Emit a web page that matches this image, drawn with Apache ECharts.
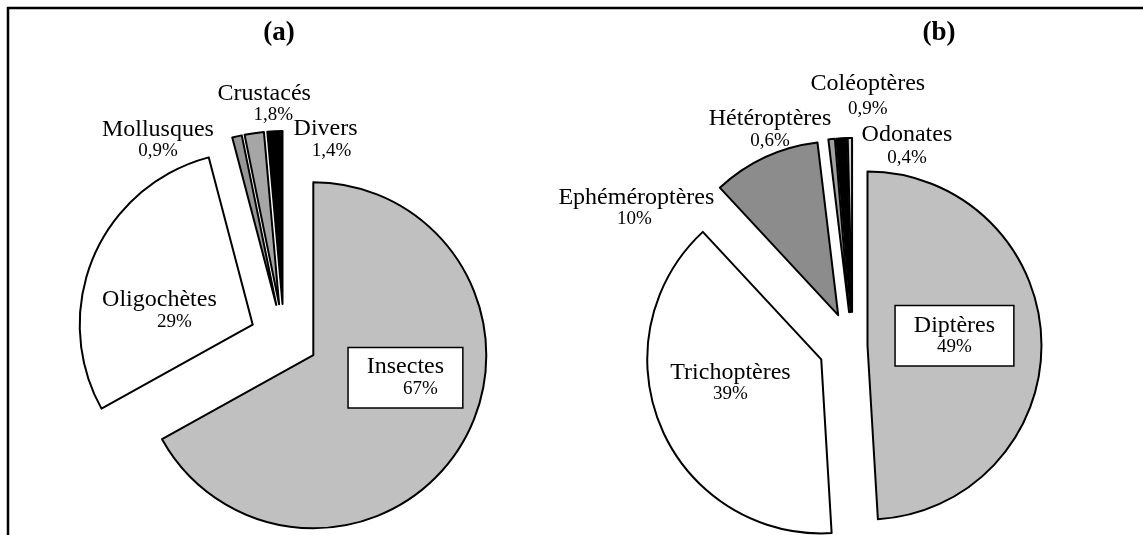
<!DOCTYPE html>
<html><head><meta charset="utf-8">
<script src="https://cdn.jsdelivr.net/npm/echarts@6/dist/echarts.min.js"></script>
<style>html,body{margin:0;padding:0;background:#fff}#c{width:1143px;height:535px}</style>
</head><body><div id="c"></div>
<script>
// ---- data ----
const panelTitles = ['(a)', '(b)'];
const catsA = ['Insectes', 'Oligochètes', 'Mollusques', 'Crustacés', 'Divers'];
const valsA = [67, 29, 0.9, 1.8, 1.4];
const catsB = ['Diptères', 'Trichoptères', 'Ephéméroptères', 'Hétéroptères', 'Coléoptères', 'Odonates'];
const valsB = [49, 39, 10, 0.6, 0.9, 0.4];

// ---- styles ----
const FONT = "'Liberation Serif', 'Times New Roman', serif";
const colorsA = ['#c0c0c0', '#ffffff', '#969696', '#a6a6a6', '#000000'];
const colorsB = ['#c0c0c0', '#ffffff', '#8c8c8c', '#a0a0a0', '#000000', '#d0d0d0'];
const explodeA = [34, 34, 34, 34, 34];
const explodeB = [15, 34, 34, 34, 34, 34];
const labelOffA = [[15, -23], [-11, 21], [-98, -78], [-2, -112], [47, -75]];
const labelOffB = [[-3, -7], [-8, -12], [-164, -25], [-70, -93], [22, -128], [56, -77]];
const pctShiftA = [15, 15, 0, 9, 6];
const pctShiftB = [0, 0, -2, 0, 0, 0];
const pctGapA = [0, 0, 0, 0, 0];
const pctGapB = [0, 0, 0, 0, 7, 5];
const boxedA = [true, false, false, false, false];
const boxedB = [true, false, false, false, false, false];

function pctKey(s, g) { return 'p' + (s < 0 ? 'm' : '') + Math.abs(s) + '_' + g; }
function buildRich(shifts, gaps) {
  const rich = { n: { fontFamily: FONT, fontSize: 24, lineHeight: 22, color: '#000' } };
  shifts.forEach((s, i) => {
    const g = gaps[i];
    rich[pctKey(s, g)] = {
      fontFamily: FONT, fontSize: 19, lineHeight: 21, color: '#000',
      padding: s >= 0 ? [g, 0, 0, 2 * s] : [g, -2 * s, 0, 0]
    };
  });
  return rich;
}

function buildPanel(id, cats, vals, colors, explode, offs, shifts, gaps, boxed, center, radius) {
  const groups = [...new Set(explode)];
  const rich = buildRich(shifts, gaps);
  return groups.map((ex, gi) => ({
    type: 'pie', id: id + gi, center: center, radius: radius,
    startAngle: 90, clockwise: true,
    selectedMode: 'multiple', selectedOffset: ex,
    avoidLabelOverlap: false, silent: true,
    emphasis: { disabled: true },
    itemStyle: { borderColor: '#000', borderWidth: 2 },
    labelLine: { show: false },
    label: { position: 'inside', color: '#000', textBorderWidth: 0, rich: rich },
    labelLayout: function (p) {
      return { dx: offs[p.dataIndex][0], dy: offs[p.dataIndex][1] };
    },
    data: cats.map((name, i) => {
      const vis = explode[i] === ex;
      const pct = String(vals[i]).replace('.', ',') + '%';
      return {
        name: name, value: vals[i], selected: vis,
        itemStyle: vis ? { color: colors[i] } : { color: 'rgba(0,0,0,0)', borderWidth: 0 },
        label: vis ? {
          show: true, position: 'inside',
          formatter: '{n|' + name + '}\n{' + pctKey(shifts[i], gaps[i]) + '|' + pct + '}',
          backgroundColor: boxed[i] ? '#fff' : 'transparent',
          borderColor: boxed[i] ? '#000' : 'transparent',
          borderWidth: boxed[i] ? 1.5 : 0,
          padding: boxed[i] ? [8, 18] : 0
        } : { show: false }
      };
    })
  }));
}

const chart = echarts.init(document.getElementById('c'), null, { renderer: 'canvas' });
chart.setOption({
  animation: false,
  backgroundColor: '#fff',
  graphic: [
    { type: 'polyline', shape: { points: [[8, 535], [8, 8], [1143, 8]] },
      style: { stroke: '#000', lineWidth: 2.5, fill: null } },
    { type: 'text', x: 279, y: 33, style: { text: panelTitles[0], font: 'bold 27px ' + FONT,
      fill: '#000', textAlign: 'center', textVerticalAlign: 'middle' } },
    { type: 'text', x: 939, y: 33, style: { text: panelTitles[1], font: 'bold 27px ' + FONT,
      fill: '#000', textAlign: 'center', textVerticalAlign: 'middle' } }
  ],
  series: [
    ...buildPanel('a', catsA, valsA, colorsA, explodeA, labelOffA, pctShiftA, pctGapA, boxedA, [284, 338], 173),
    ...buildPanel('b', catsB, valsB, colorsB, explodeB, labelOffB, pctShiftB, pctGapB, boxedB, [852.5, 346], 174)
  ]
});
</script></body></html>
